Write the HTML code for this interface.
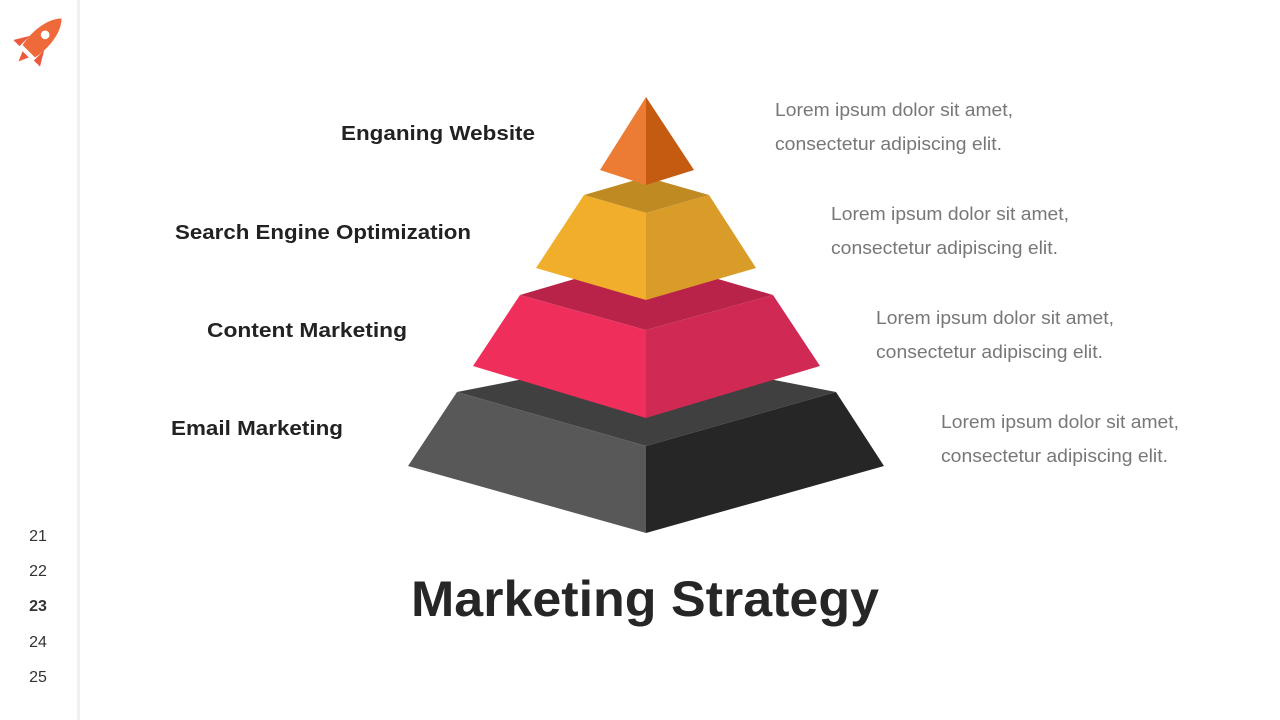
<!DOCTYPE html>
<html><head><meta charset="utf-8"><style>
html,body{margin:0;padding:0;background:#fff;}
svg{display:block;}
</style></head><body>
<svg width="1280" height="720" viewBox="0 0 1280 720" xmlns="http://www.w3.org/2000/svg">
<rect width="1280" height="720" fill="#fff"/>
<rect x="77" y="0" width="3" height="720" fill="#f0f0f0"/>
<!-- rocket -->
<g transform="translate(39,41) rotate(45) scale(1.45)">
  <path d="M0,-22 C8,-14 8,2 6,10 L-6,10 C-8,2 -8,-14 0,-22 Z" fill="#ee6a3a"/>
  <circle cx="0" cy="-6" r="3" fill="#fff"/>
  <path d="M-7,2 L-13,12 L-7,12 Z" fill="#ec5a3e"/>
  <path d="M7,2 L13,12 L7,12 Z" fill="#ec5a3e"/>
  <path d="M-3,13 L3,13 L0,20 Z" fill="#ec5a3e"/>
</g>
<g font-family="'Liberation Sans',sans-serif" font-size="16" fill="#333" text-anchor="middle">
<text x="38" y="541">21</text><text x="38" y="576">22</text>
<text x="38" y="611" font-weight="bold">23</text>
<text x="38" y="647">24</text><text x="38" y="682">25</text>
</g>
<!-- pyramid: dark -->
<polygon points="457,392 646,355 836,392 646,446" fill="#404040"/>
<polygon points="457,392 646,446 646,533 408,466" fill="#585858"/>
<polygon points="836,392 646,446 646,533 884,466" fill="#262626"/>
<!-- pink -->
<polygon points="520,295 646,258 773,295 646,330" fill="#b9234a"/>
<polygon points="520,295 646,330 646,418 473,366" fill="#ef2e5b"/>
<polygon points="773,295 646,330 646,418 820,366" fill="#cf2954"/>
<!-- yellow -->
<polygon points="584,195 646,177 709,195 646,213" fill="#c08a23"/>
<polygon points="584,195 646,213 646,300 536,268" fill="#f0ae2a"/>
<polygon points="709,195 646,213 646,300 756,268" fill="#d99c29"/>
<!-- orange -->
<polygon points="646,97 646,185 600,170" fill="#ec7c33"/>
<polygon points="646,97 646,185 694,170" fill="#c55a11"/>
<!-- labels -->
<g font-family="'Liberation Sans',sans-serif" font-size="20" font-weight="bold" fill="#222">
<text x="341" y="140" textLength="194" lengthAdjust="spacingAndGlyphs">Enganing Website</text>
<text x="175" y="239" textLength="296" lengthAdjust="spacingAndGlyphs">Search Engine Optimization</text>
<text x="207" y="337" textLength="200" lengthAdjust="spacingAndGlyphs">Content Marketing</text>
<text x="171" y="435" textLength="172" lengthAdjust="spacingAndGlyphs">Email Marketing</text>
</g>
<g font-family="'Liberation Sans',sans-serif" font-size="18" fill="#777">
<text x="775" y="116" textLength="238" lengthAdjust="spacingAndGlyphs">Lorem ipsum dolor sit amet,</text>
<text x="775" y="150" textLength="227" lengthAdjust="spacingAndGlyphs">consectetur adipiscing elit.</text>
<text x="831" y="220" textLength="238" lengthAdjust="spacingAndGlyphs">Lorem ipsum dolor sit amet,</text>
<text x="831" y="254" textLength="227" lengthAdjust="spacingAndGlyphs">consectetur adipiscing elit.</text>
<text x="876" y="324" textLength="238" lengthAdjust="spacingAndGlyphs">Lorem ipsum dolor sit amet,</text>
<text x="876" y="358" textLength="227" lengthAdjust="spacingAndGlyphs">consectetur adipiscing elit.</text>
<text x="941" y="428" textLength="238" lengthAdjust="spacingAndGlyphs">Lorem ipsum dolor sit amet,</text>
<text x="941" y="462" textLength="227" lengthAdjust="spacingAndGlyphs">consectetur adipiscing elit.</text>
</g>
<text x="411" y="616" font-family="'Liberation Sans',sans-serif" font-size="50" font-weight="bold" fill="#262626" textLength="468" lengthAdjust="spacingAndGlyphs">Marketing Strategy</text>
</svg>
</body></html>
